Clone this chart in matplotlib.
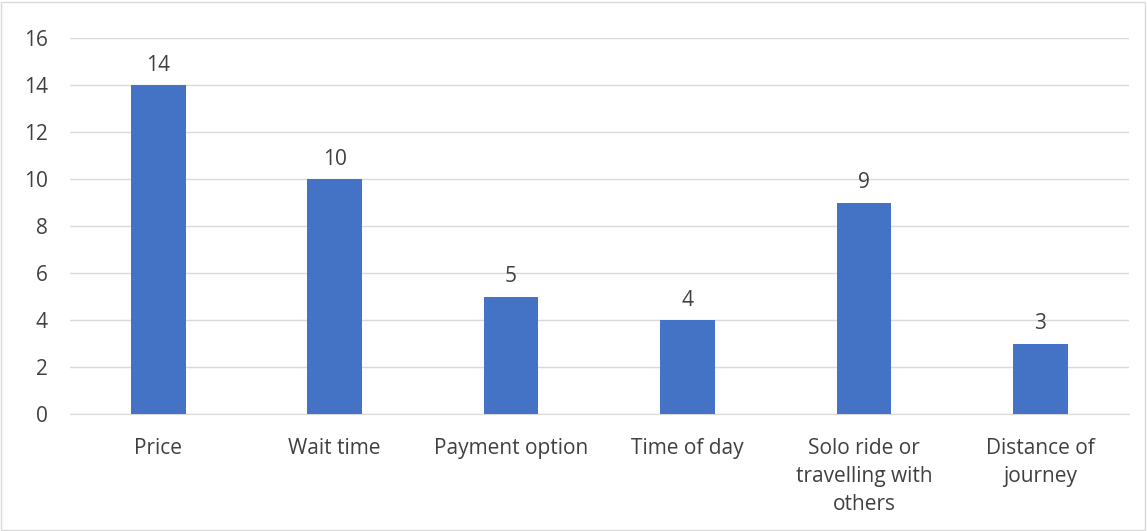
import matplotlib.pyplot as plt

# data
factors = ["Price", "Wait time", "Payment option", "Time of day",
           "Solo ride or\ntravelling with\nothers", "Distance of\njourney"]
counts = [14, 10, 5, 4, 9, 3]
yticks = [0, 2, 4, 6, 8, 10, 12, 14, 16]

plt.rcParams['font.family'] = ['Open Sans', 'DejaVu Sans']
text_col = "#404040"

fig = plt.figure(figsize=(11.47, 5.31), dpi=100)
ax = fig.add_axes([0.061, 0.22, 0.923, 0.708])

x = range(len(factors))
bars = ax.bar(x, counts, width=0.31, color="#4472C4", zorder=3)

for i, v in zip(x, counts):
    ax.text(i, v + 0.4, str(v), ha="center", va="bottom", fontsize=15, color=text_col)

ax.set_xlim(-0.5, len(factors) - 0.5)
ax.set_ylim(0, 16)
ax.set_yticks(yticks)
ax.set_xticks(list(x))
ax.set_xticklabels(factors, fontsize=15, color=text_col, va="top")
for lbl in ax.get_xticklabels():
    lbl.set_linespacing(1.45)
ax.tick_params(axis="y", labelsize=15, labelcolor=text_col, length=0, pad=16)
ax.tick_params(axis="x", length=0, pad=17)

ax.grid(axis="y", color="#D9D9D9", linewidth=1, zorder=0)
for s in ["top", "right", "left"]:
    ax.spines[s].set_visible(False)
ax.spines["bottom"].set_color("#D9D9D9")

# light border around the chart
fig.patches.append(plt.Rectangle((0.001, 0.002), 0.997, 0.995, transform=fig.transFigure,
                                 fill=False, edgecolor="#D9D9D9", linewidth=1))

plt.savefig("out.png", dpi=100)
